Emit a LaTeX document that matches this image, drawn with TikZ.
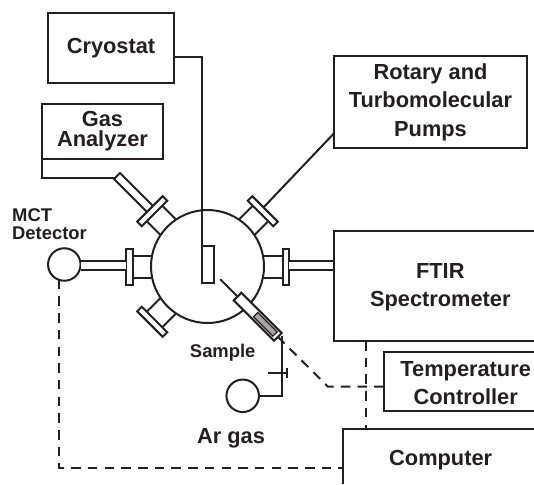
\documentclass[tikz,border=0pt]{standalone}
\usepackage{fontspec}
\setmainfont{Liberation Sans}
\definecolor{ink}{HTML}{231F20}
\tikzset{
    box/.style={draw=ink,line width=2pt,inner sep=0pt,outer sep=0pt,text=ink,align=center,
        font=\bfseries\fontsize{21.8}{28.5}\selectfont},
    label/.style={inner sep=0pt,text=ink,align=center,font=\bfseries\fontsize{21.8}{28.5}\selectfont},
    smalllabel/.style={inner sep=0pt,text=ink,align=left,font=\bfseries\fontsize{18.4}{18.5}\selectfont},
    ball/.style={circle,draw=ink,line width=2pt,inner sep=0pt,outer sep=0pt,minimum size=32.5pt},
    line/.style={draw=ink,line width=2pt},
    dashline/.style={draw=ink,line width=2pt,dash pattern=on 9.5pt off 7.2pt},
    tube/.style={draw=ink,line width=2pt,double=white,double distance=6.7pt}
}
\begin{document}
\begin{tikzpicture}[x=1pt,y=-1pt]
    \useasboundingbox (0,0) rectangle (534,484);

    \coordinate (F1) at (334.3,231);
    \coordinate (F2) at (334.3,341);
    \coordinate (T1) at (384,352);
    \coordinate (T2) at (384,411);
    \coordinate (T3) at (384,386.7);
    \coordinate (K1) at (343.3,429);
    \coordinate (K2) at (343.3,467.7);
    \coordinate (V1) at (281.7,336);
    \coordinate (G1) at (115,178);
    \coordinate (P1) at (334.3,133);
    \coordinate (C1) at (174,57);

    \node[box,minimum width=126pt,minimum height=70.5pt] (cryostat) at (111,47.8) {Cryostat};
    \node[box,minimum width=193pt,minimum height=92pt] (pumps) at (430.5,102) {Rotary and\\Turbomolecular\\Pumps};
    \node[box,minimum width=121pt,minimum height=55pt] (analyzer) at (102.5,131.5) {Gas\\[-8.5pt]Analyzer};
    \node[circle,draw=ink,line width=2pt,inner sep=0pt,outer sep=0pt,minimum size=113pt] (chamber) at (207.5,266.5) {};
    \node[box,minimum width=12pt,minimum height=37pt] (rod) at (208,264.5) {};
    \node[ball] (mct) at (64.3,264.5) {};
    \node[ball] (argas) at (242.7,395.8) {};

    \draw[line] (C1) -| (rod.north west);
    \draw[line] (analyzer.south west) |- (G1);
    \draw[line] (P1) -- (262,209);

    \foreach \a in {0,45,135,180,225} {
        \begin{scope}[shift={(chamber.center)},rotate=\a]
            \draw[line] (55.3,-11) -- (75,-11) (55.3,11) -- (75,11);
            \draw[line,fill=white] (75,-18) rectangle (81.4,18);
            \coordinate (port\a) at (81.4,0);
        \end{scope}
    }

    \begin{scope}[shift={(chamber.center)},rotate=135]
        \draw[line] (81.4,-4.2) -- (128,-4.2) -- (128,4.2) -- (81.4,4.2);
    \end{scope}

    \draw[tube] ([yshift=1pt]port180) -- ([yshift=1pt]port180 -| mct.east);
    \draw[tube] ([yshift=1pt]port0) -- ([yshift=1pt]port0 -| F1);

    \draw[line] (V1) |- (argas.east);
    \draw[line] (268,373) -- (286.7,373);
    \draw[line] (286.7,368) -- (286.7,378);

    \begin{scope}[shift={(chamber.center)},rotate=-45]
        \draw[line] (18,0) -- (42,0);
        \draw[line,fill=white] (42.5,-5.4) rectangle (99.5,5.4);
        \draw[draw=ink,line width=1.2pt,fill=black!35] (68,-3) rectangle (95.5,3);
        \coordinate (sampleend) at (99.5,0);
    \end{scope}

    \draw[dashline] (sampleend) -- (328,386.7) -- (T3);
    \draw[dashline] (mct.250) |- (K2);
    \draw[dashline] (365.7,341) -- (365.7,429);

    \draw[line] (534,231) -- (F1) -- (F2) -- (534,341);
    \draw[line] (534,352) -- (T1) -- (T2) -- (534,411);
    \draw[line] (534,429) -- (K1) -- (343.3,484);

    \node[label] (ftir) at (440.3,287.5) {FTIR\\Spectrometer};
    \node[label] (controller) at (465.7,383) {Temperature\\Controller};
    \node[label] (computer) at (440.7,460) {Computer};
    \node[label] (gas) at (231,438) {Ar gas};
    \node[smalllabel] (detector) at (49.5,224) {MCT\\Detector};
    \node[smalllabel] (sample) at (222.7,352.7) {Sample};
\end{tikzpicture}
\end{document}
